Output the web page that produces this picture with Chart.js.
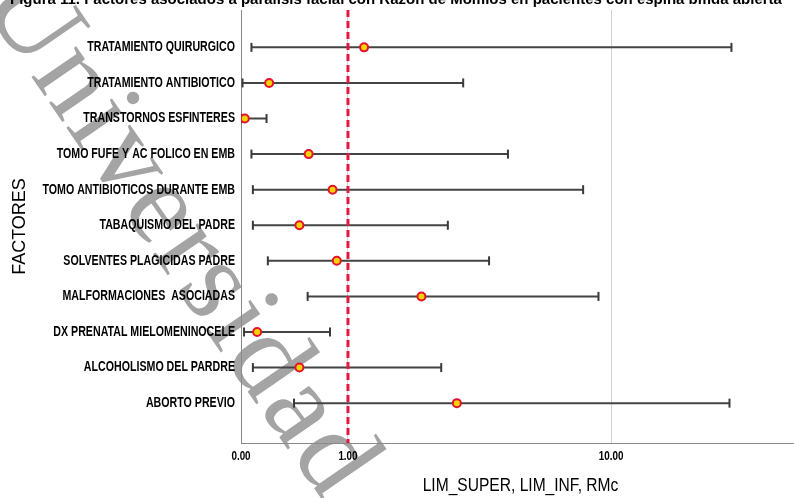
<!DOCTYPE html>
<html>
<head>
<meta charset="utf-8">
<script src="https://cdn.jsdelivr.net/npm/chart.js@4.4.1/dist/chart.umd.min.js"></script>
<style>
  html, body { margin: 0; padding: 0; background: #ffffff; }
  #c { display: block; }
</style>
</head>
<body>
<canvas id="c" width="794" height="498"></canvas>
<script>
// Factores evaluados (de arriba hacia abajo)
const categories = [
  'TRATAMIENTO QUIRURGICO',
  'TRATAMIENTO ANTIBIOTICO',
  'TRANSTORNOS ESFINTERES',
  'TOMO FUFE Y AC FOLICO EN EMB',
  'TOMO ANTIBIOTICOS DURANTE EMB',
  'TABAQUISMO DEL PADRE',
  'SOLVENTES PLAGICIDAS PADRE',
  'MALFORMACIONES  ASOCIADAS',
  'DX PRENATAL MIELOMENINOCELE',
  'ALCOHOLISMO DEL PARDRE',
  'ABORTO PREVIO'
];

// Razón de momios cruda (RMc) e intervalo de confianza
const rmc      = [1.22, 0.20, 0.025, 0.55, 0.81, 0.46, 0.86, 2.22, 0.11, 0.46, 3.05];
const limInf   = [0.07, 0.01, 0.005, 0.07, 0.08, 0.08, 0.19, 0.54, 0.02, 0.08, 0.41];
const limSuper = [23.0, 3.22, 0.18, 4.64, 8.18, 2.82, 3.99, 9.14, 0.78, 2.66, 22.7];

// Eje X
const xTickValues = [0, 1, 10];
const xMaxValue = 35;
const refValue = 1;

const titleText = 'Figura 11. Factores asociados a parálisis facial con Razón de Momios en pacientes con espina bífida abierta';
const xTitle = 'LIM_SUPER, LIM_INF, RMc';
const yTitle = 'FACTORES';
const watermark = 'Universidad';

// Escala logarítmica "segura": log10(x + 1)
const safeLog = v => Math.log10(v + 1);

const SANS = '"Liberation Sans", Arial, sans-serif';

const whiskerData = [];
const capData = [];
const pointData = [];
categories.forEach((c, i) => {
  whiskerData.push({ x: safeLog(limInf[i]), y: i });
  whiskerData.push({ x: safeLog(limSuper[i]), y: i });
  whiskerData.push({ x: NaN, y: NaN });
  capData.push({ x: safeLog(limInf[i]), y: i });
  capData.push({ x: safeLog(limSuper[i]), y: i });
  pointData.push({ x: safeLog(rmc[i]), y: i });
});

// Texto condensado (estilo "narrow")
function narrowText(ctx, text, x, y, font, align, sx) {
  ctx.save();
  ctx.font = font;
  ctx.fillStyle = '#000000';
  ctx.textAlign = align;
  ctx.textBaseline = 'middle';
  ctx.translate(x, y);
  ctx.scale(sx, 1);
  ctx.fillText(text, 0, 0);
  ctx.restore();
}

const decor = {
  id: 'decor',
  beforeDraw(chart) {
    const ctx = chart.ctx;
    ctx.save();
    ctx.fillStyle = '#ffffff';
    ctx.fillRect(0, 0, chart.width, chart.height);
    // marca de agua
    ctx.translate(-20, 2);
    ctx.rotate(55.5 * Math.PI / 180);
    ctx.font = '118px "Liberation Serif", "DejaVu Serif", serif';
    if ('letterSpacing' in ctx) ctx.letterSpacing = '3px';
    ctx.fillStyle = '#a4a4a4';
    ctx.textBaseline = 'alphabetic';
    ctx.fillText(watermark, 0, 0);
    ctx.restore();
  },
  afterDatasetsDraw(chart) {
    const ctx = chart.ctx;
    const xs = chart.scales.x;
    const area = chart.chartArea;
    const px = xs.getPixelForValue(safeLog(refValue));
    ctx.save();
    ctx.strokeStyle = '#e3173f';
    ctx.lineWidth = 3;
    ctx.setLineDash([7, 4]);
    ctx.beginPath();
    ctx.moveTo(px, area.top);
    ctx.lineTo(px, area.bottom);
    ctx.stroke();
    ctx.restore();
  },
  afterDraw(chart) {
    const ctx = chart.ctx;
    const xs = chart.scales.x;
    const ys = chart.scales.y;
    const area = chart.chartArea;

    // etiquetas de categorías
    categories.forEach((c, i) => {
      narrowText(ctx, c, area.left - 6, ys.getPixelForValue(i), 'bold 14px ' + SANS, 'right', 0.76);
    });
    // etiquetas del eje X
    xTickValues.forEach(v => {
      narrowText(ctx, v.toFixed(2), xs.getPixelForValue(safeLog(v)), area.bottom + 14, 'bold 12px ' + SANS, 'center', 0.82);
    });
    // título del eje X
    narrowText(ctx, xTitle, (area.left + area.right) / 2 + 3, area.bottom + 43, '19px ' + SANS, 'center', 0.82);

    // título de la figura (recortado en el borde superior)
    ctx.save();
    ctx.font = 'bold 15px ' + SANS;
    ctx.fillStyle = '#000000';
    ctx.textBaseline = 'alphabetic';
    ctx.fillText(titleText, 10, 4, 783);
    ctx.restore();
  }
};

new Chart(document.getElementById('c'), {
  type: 'line',
  data: {
    datasets: [
      {
        label: 'RMc',
        data: pointData,
        showLine: false,
        pointRadius: 4,
        pointBorderWidth: 2,
        pointBackgroundColor: '#f2d400',
        pointBorderColor: '#e5112e'
      },
      {
        label: 'Límites',
        data: capData,
        showLine: false,
        pointStyle: 'line',
        rotation: 90,
        pointRadius: 4.5,
        pointBorderWidth: 2,
        pointBorderColor: '#3a3a3a'
      },
      {
        label: 'IC',
        data: whiskerData,
        showLine: true,
        spanGaps: false,
        borderColor: '#444444',
        borderWidth: 2,
        pointRadius: 0
      }
    ]
  },
  options: {
    responsive: false,
    animation: false,
    devicePixelRatio: 1,
    layout: { autoPadding: false, padding: { top: 10, right: 0, bottom: 0, left: 0 } },
    plugins: { legend: { display: false }, tooltip: { enabled: false } },
    scales: {
      x: {
        type: 'linear',
        min: 0,
        max: safeLog(xMaxValue),
        afterBuildTicks: s => { s.ticks = xTickValues.map(v => ({ value: safeLog(v) })); },
        afterFit: s => { s.height = 55; },
        ticks: { display: false, autoSkip: false },
        grid: {
          drawTicks: false,
          color: c => (c.tick && c.tick.value === 0) ? 'rgba(0,0,0,0)' : '#d2d2d2',
          lineWidth: 1
        },
        border: { display: true, color: '#8a8a8a', width: 1 }
      },
      y: {
        type: 'linear',
        reverse: true,
        min: -1.05,
        max: 11.12,
        afterBuildTicks: s => { s.ticks = categories.map((_, i) => ({ value: i })); },
        afterFit: s => { s.width = 241; },
        ticks: { display: false, autoSkip: false },
        grid: { display: false, drawTicks: false },
        border: { display: true, color: '#8a8a8a', width: 1 },
        title: {
          display: true,
          text: yTitle,
          color: '#000000',
          font: { family: SANS, size: 18, lineHeight: 1 },
          padding: { top: 11, bottom: 0 }
        }
      }
    }
  },
  plugins: [decor]
});
</script>
</body>
</html>
